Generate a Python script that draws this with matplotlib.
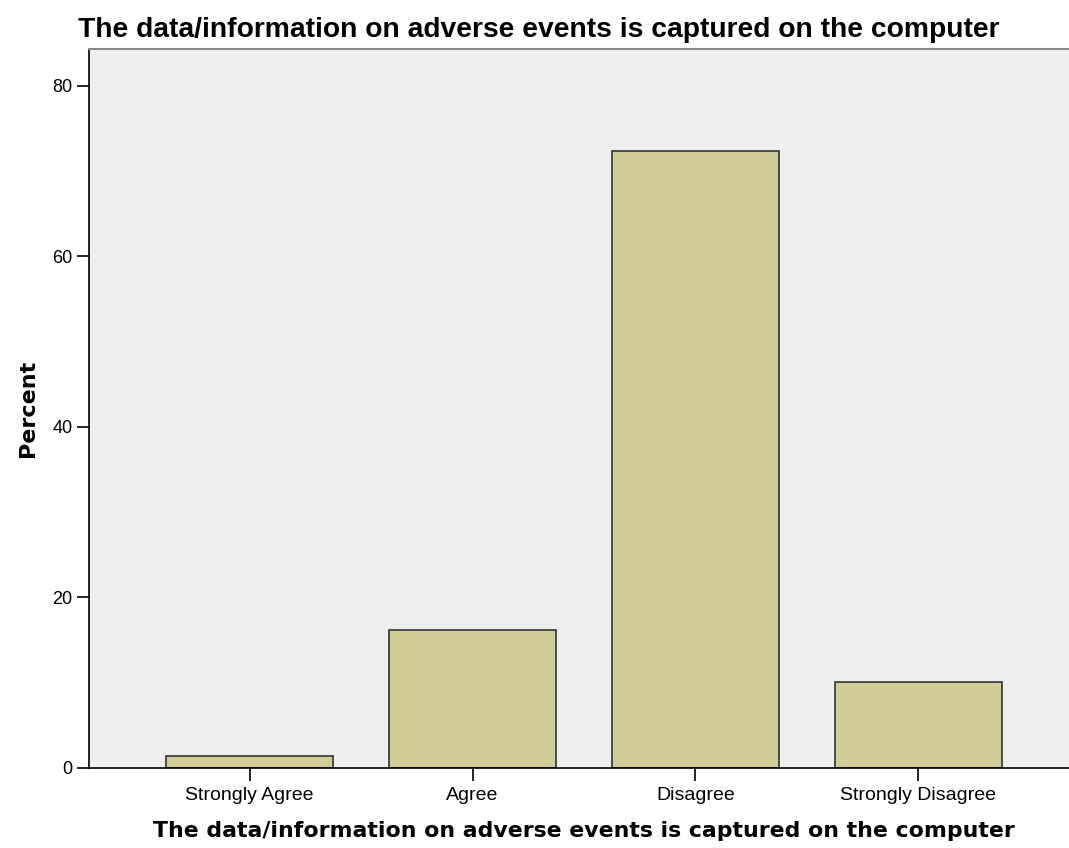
import numpy as np
import matplotlib
matplotlib.use("Agg")
import matplotlib.pyplot as plt

plt.rcParams["font.family"] = ["Liberation Sans", "DejaVu Sans"]

# ─────────────────────────────── data ───────────────────────────────────────
categories = ["Strongly Agree", "Agree", "Disagree", "Strongly Disagree"]
percent = [1.4, 16.2, 72.3, 10.1]
y_ticks = [0, 20, 40, 60, 80]

title = "The data/information on adverse events is captured on the computer"

# ─────────────────────────────── plot ───────────────────────────────────────
fig = plt.figure(figsize=(10.69, 8.48), dpi=100)
W, H = 1069, 848
left, right, top, bottom = 89, 1079, 49, 768
ax = fig.add_axes([left / W, 1 - bottom / H, (right - left) / W, (bottom - top) / H])
ax.set_facecolor("#efefef")

x = np.arange(len(categories))
ax.bar(x, percent, width=0.75, color="#d2cd96", edgecolor="#333333", linewidth=1.2, zorder=2)

ax.set_xlim(-0.72, len(categories) - 0.28)
ax.set_ylim(0, 84.3)
ax.set_xticks(x)
ax.set_xticklabels(categories, fontsize=14)
ax.set_yticks(y_ticks)
ax.set_yticklabels([str(v) for v in y_ticks], fontsize=13)
ax.tick_params(axis="both", length=9, width=1.2, color="black", pad=3)
ax.tick_params(axis="x", pad=5)

for side in ["top", "right"]:
    ax.spines[side].set_color("#888888")
    ax.spines[side].set_linewidth(1.5)
for side in ["left", "bottom"]:
    ax.spines[side].set_color("black")
    ax.spines[side].set_linewidth(1.2)

ax.set_ylabel("Percent", fontsize=16, fontweight="bold", family="DejaVu Sans", labelpad=10)
ax.set_xlabel(title, fontsize=15.8, fontweight="bold", family="DejaVu Sans", labelpad=12)
fig.text(78 / W, 1 - 30 / H, title, fontsize=20.3, fontweight="bold", ha="left", va="center")

fig.savefig("out.png", dpi=100)
plt.close(fig)
